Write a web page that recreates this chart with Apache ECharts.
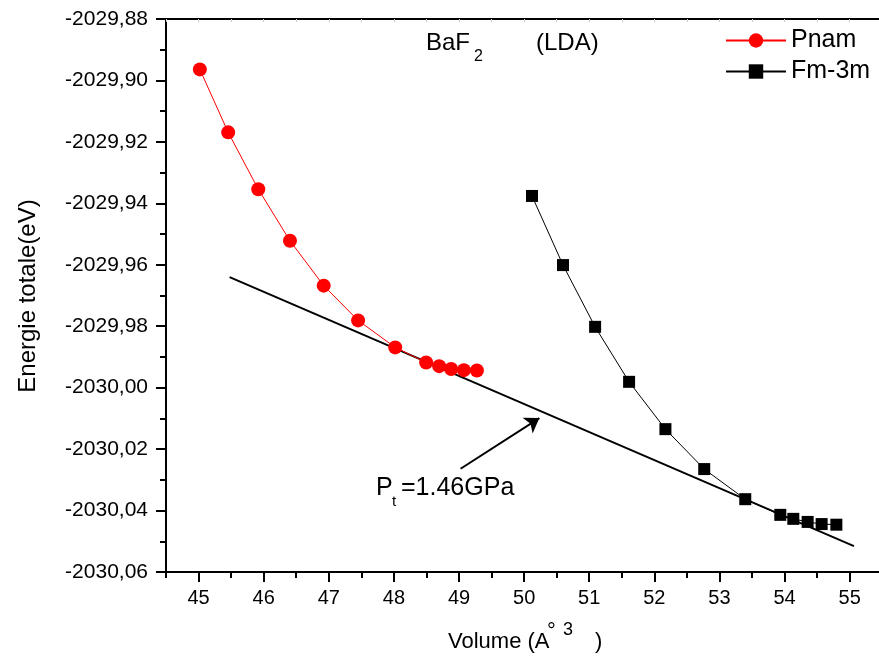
<!DOCTYPE html>
<html>
<head>
<meta charset="utf-8">
<script src="https://cdn.jsdelivr.net/npm/echarts@6/dist/echarts.min.js"></script>
<style>
html,body{margin:0;padding:0;background:#fff;}
#chart{width:879px;height:662px;}
</style>
</head>
<body>
<div id="chart"></div>
<script>
// ---- data ----
var pnamV = [45.02, 45.455, 45.917, 46.404, 46.922, 47.45, 48.02, 48.495, 48.695, 48.88, 49.075, 49.275];
var pnamE = [-2029.8964, -2029.9169, -2029.9354, -2029.9522, -2029.9668, -2029.9781, -2029.9869, -2029.9918, -2029.9930, -2029.9939, -2029.9943, -2029.9944];
var fmV = [50.121, 50.597, 51.09, 51.612, 52.17, 52.766, 53.396, 53.934, 54.134, 54.354, 54.569, 54.795];
var fmE = [-2029.9376, -2029.9601, -2029.9802, -2029.9981, -2030.0135, -2030.0265, -2030.0363, -2030.0414, -2030.0427, -2030.0437, -2030.0444, -2030.0446];
var tangentV = [45.477, 55.066];
var tangentE = [-2029.9640, -2030.0516];
var arrowV = [49.024, 50.234];
var arrowE = [-2030.0264, -2030.0099];
var xMajorTicks = [45, 46, 47, 48, 49, 50, 51, 52, 53, 54, 55];
var xMinorTicks = [44.5, 45.5, 46.5, 47.5, 48.5, 49.5, 50.5, 51.5, 52.5, 53.5, 54.5];
var seriesNames = ['Pnam', 'Fm-3m'];

function zip(a, b) { return a.map(function (v, i) { return [v, b[i]]; }); }

var FONT = 'Arial, "Liberation Sans", sans-serif';
var chart = echarts.init(document.getElementById('chart'));
var xMin = 44.5, xMax = 55.45;

var option = {
  animation: false,
  backgroundColor: '#fff',
  grid: { left: 166, top: 19, right: 0, bottom: 90 },
  legend: {
    data: seriesNames,
    orient: 'vertical',
    left: 720,
    top: 23,
    itemWidth: 60,
    itemHeight: 18,
    itemGap: 6,
    textStyle: { fontSize: 25, color: '#000', fontFamily: FONT }
  },
  xAxis: [
    {
      type: 'value', position: 'bottom', min: xMin, max: xMax,
      axisLine: { lineStyle: { color: '#000', width: 2 } },
      axisTick: { show: true, customValues: xMajorTicks, length: 10, lineStyle: { color: '#000', width: 2 } },
      axisLabel: { customValues: xMajorTicks, margin: 16, fontSize: 20, color: '#000', fontFamily: FONT },
      splitLine: { show: false }
    },
    {
      type: 'value', position: 'bottom', min: xMin, max: xMax,
      axisLine: { show: false },
      axisTick: { show: true, customValues: xMinorTicks, length: 6, lineStyle: { color: '#000', width: 2 } },
      axisLabel: { show: false },
      splitLine: { show: false }
    },
    {
      type: 'value', position: 'top', min: xMin, max: xMax,
      axisLine: { lineStyle: { color: '#000', width: 2 } },
      axisTick: { show: true, inside: true, customValues: xMinorTicks.concat(xMajorTicks), length: 3, lineStyle: { color: '#ccc', width: 1 } },
      axisLabel: { show: false },
      splitLine: { show: false }
    }
  ],
  yAxis: {
    type: 'value', min: -2030.06, max: -2029.88, interval: 0.02,
    axisLine: { show: true, lineStyle: { color: '#000', width: 2 } },
    axisTick: { show: true, length: 10, lineStyle: { color: '#000', width: 2 } },
    minorTick: { show: true, splitNumber: 2, length: 6, lineStyle: { color: '#000', width: 2 } },
    axisLabel: {
      margin: 18, fontSize: 21, color: '#000', fontFamily: FONT,
      formatter: function (v) { return v.toFixed(2).replace('.', ','); }
    },
    splitLine: { show: false }
  },
  series: [
    {
      name: 'tangent', type: 'line', xAxisIndex: 0, data: zip(tangentV, tangentE),
      symbol: 'none', lineStyle: { color: '#000', width: 2 }, z: 1,
      markLine: {
        silent: true, symbol: ['none', 'arrow'], symbolSize: 14,
        label: { show: false },
        emphasis: { disabled: true },
        lineStyle: { color: '#000', width: 2, type: 'solid' },
        data: [[{ coord: [arrowV[0], arrowE[0]] }, { coord: [arrowV[1], arrowE[1]] }]]
      }
    },
    {
      name: 'Pnam', type: 'line', xAxisIndex: 0, data: zip(pnamV, pnamE),
      symbol: 'circle', symbolSize: 14, color: '#ff0000',
      itemStyle: { color: '#ff0000' },
      lineStyle: { color: '#ff0000', width: 1 }, z: 3
    },
    {
      name: 'Fm-3m', type: 'line', xAxisIndex: 0, data: zip(fmV, fmE),
      symbol: 'rect', symbolSize: 12, color: '#000',
      itemStyle: { color: '#000' },
      lineStyle: { color: '#000', width: 1 }, z: 3
    }
  ],
  graphic: [
    { type: 'text', left: 426, top: 31, style: { text: 'BaF', fontSize: 24, fontFamily: FONT, fill: '#000' } },
    { type: 'text', left: 474, top: 49, style: { text: '2', fontSize: 16, fontFamily: FONT, fill: '#000' } },
    { type: 'text', left: 536, top: 31, style: { text: '(LDA)', fontSize: 24, fontFamily: FONT, fill: '#000' } },
    { type: 'text', left: 376, top: 476, style: { text: 'P', fontSize: 25, fontFamily: FONT, fill: '#000' } },
    { type: 'text', left: 392, top: 494, style: { text: 't', fontSize: 15, fontFamily: FONT, fill: '#000' } },
    { type: 'text', left: 401, top: 476, style: { text: '=1.46GPa', fontSize: 25, fontFamily: FONT, fill: '#000' } },
    { type: 'text', left: 448, top: 631, style: { text: 'Volume (A', fontSize: 22, fontFamily: FONT, fill: '#000' } },
    { type: 'text', left: 547, top: 621, style: { text: '\u00b0', fontSize: 22, fontFamily: FONT, fill: '#000' } },
    { type: 'text', left: 563, top: 621, style: { text: '3', fontSize: 18, fontFamily: FONT, fill: '#000' } },
    { type: 'text', left: 595, top: 631, style: { text: ')', fontSize: 22, fontFamily: FONT, fill: '#000' } },
    { type: 'text', x: 28, y: 296, rotation: Math.PI / 2,
      style: { text: 'Energie totale(eV)', fontSize: 24, fontFamily: FONT, fill: '#000', align: 'center', verticalAlign: 'middle' } }
  ]
};
chart.setOption(option);
</script>
</body>
</html>
